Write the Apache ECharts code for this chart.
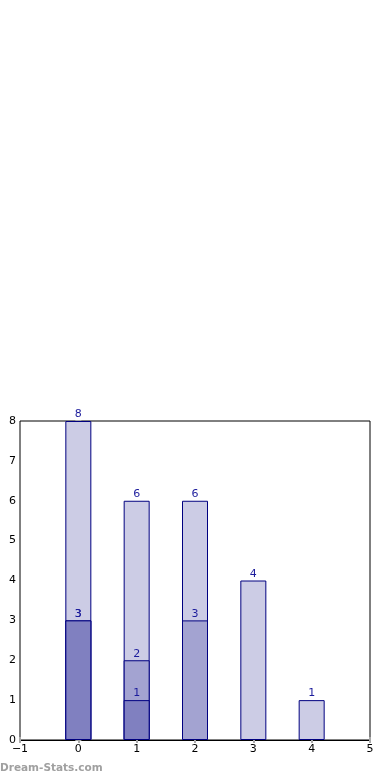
<!DOCTYPE html>
<html><head><meta charset="utf-8">
<script src="https://cdn.jsdelivr.net/npm/echarts@6/dist/echarts.min.js"></script>
<style>html,body{margin:0;padding:0;background:#fff}#c{width:390px;height:780px}</style>
</head><body><div id="c"></div>
<script>
const positions = [0, 1, 2, 3, 4];
const totalValues = [8, 6, 6, 4, 1];
const midValues = [3, 2, 3, 0, 0];
const lowValues = [3, 1, 0, 0, 0];
const xTicks = [-1, 0, 1, 2, 3, 4, 5];

const chart = echarts.init(document.getElementById('c'));
function mk(name, vals, color, z) {
  return {
    name, type: 'bar', z,
    data: positions.map((p, i) => vals[i] > 0 ? [p, vals[i]] : [p, '-']),
    barWidth: 26, barGap: '-100%',
    itemStyle: { color, borderColor: '#000080', borderWidth: 1 },
    label: {
      show: true, position: 'top', distance: 1,
      color: '#1c1c9c', fontFamily: 'DejaVu Sans', fontSize: 11,
      formatter: p => String(p.value[1])
    },
    animation: false
  };
}
const tickStyle = { show: true, inside: true, length: 3, lineStyle: { color: '#aaa', width: 2 } };
chart.setOption({
  animation: false,
  grid: { left: 20, right: 20, top: 421, bottom: 40, show: true, borderColor: '#000', borderWidth: 1, backgroundColor: 'transparent' },
  xAxis: [
    { type: 'value', min: -1, max: 5, interval: 1, position: 'bottom',
      axisLine: { show: true, lineStyle: { color: '#000' } }, axisTick: tickStyle,
      splitLine: { show: false },
      axisLabel: { color: '#000', fontFamily: 'DejaVu Sans', fontSize: 11, margin: 4,
        formatter: v => v < 0 ? '\u2212' + Math.abs(v) : String(v) } },
    { type: 'value', min: -1, max: 5, interval: 1, position: 'top',
      axisLine: { show: false }, axisTick: tickStyle, splitLine: { show: false }, axisLabel: { show: false } }
  ],
  yAxis: [
    { type: 'value', min: 0, max: 8, interval: 1, position: 'left',
      axisLine: { show: true, lineStyle: { color: '#000' } }, axisTick: tickStyle,
      splitLine: { show: false },
      axisLabel: { color: '#000', fontFamily: 'DejaVu Sans', fontSize: 11, margin: 4 } },
    { type: 'value', min: 0, max: 8, interval: 1, position: 'right',
      axisLine: { show: false }, axisTick: tickStyle, splitLine: { show: false }, axisLabel: { show: false } }
  ],
  series: [
    mk('total', totalValues, '#cccce5', 2),
    mk('mid', midValues, '#a3a3d1', 3),
    mk('low', lowValues, '#8080c0', 4)
  ],
  graphic: [{
    type: 'text', left: 0, top: 763,
    style: { text: 'Dream-Stats.com', fill: '#a0a0a0', font: 'bold 10.5px "DejaVu Sans"' }
  }]
});
</script></body></html>
